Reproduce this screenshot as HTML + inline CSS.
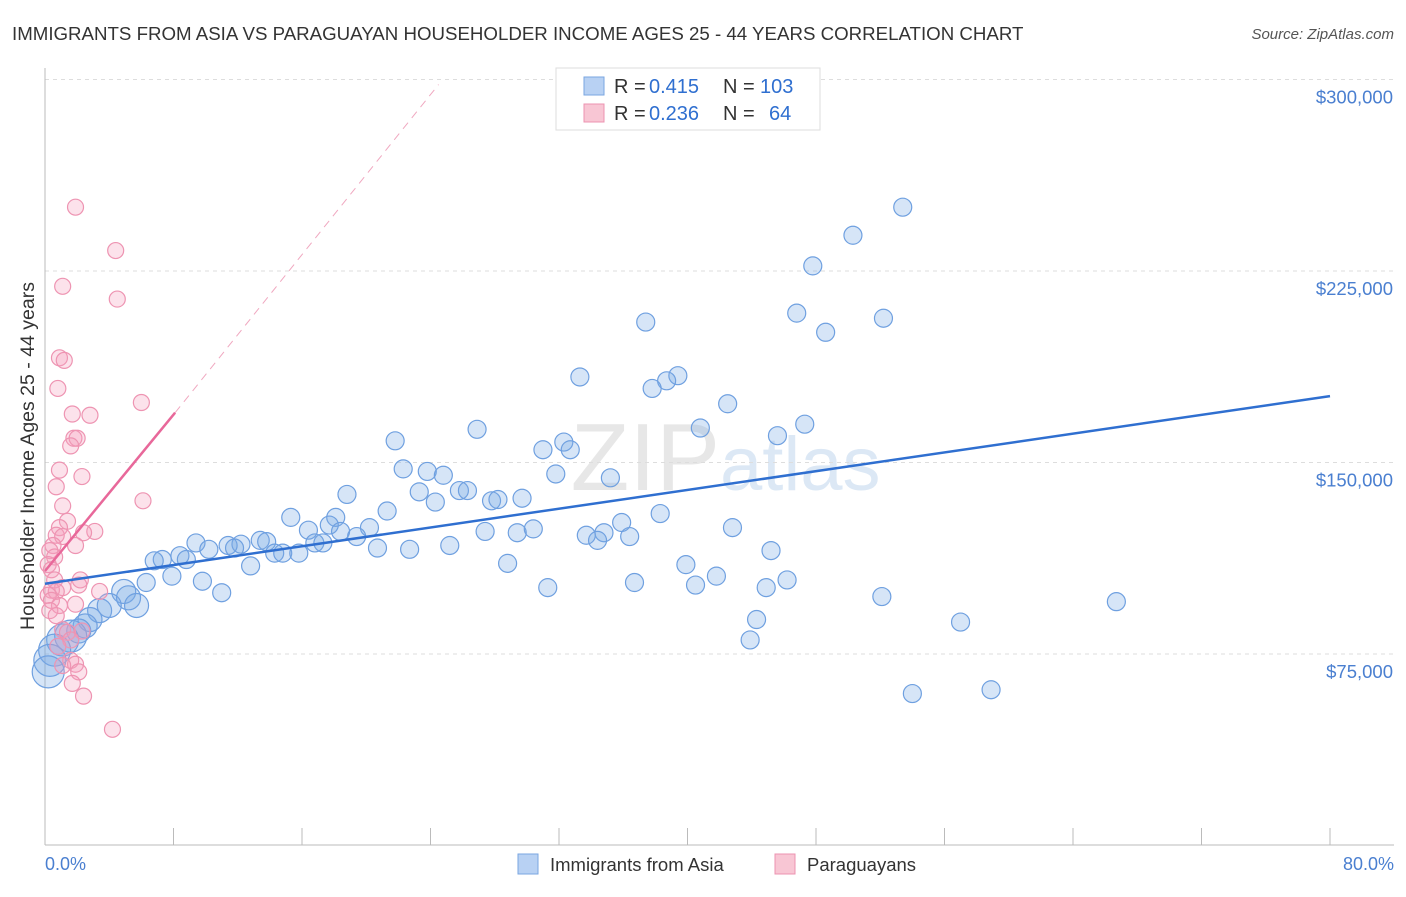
<!DOCTYPE html>
<html><head><meta charset="utf-8"><style>
body{margin:0;background:#fff;font-family:"Liberation Sans",sans-serif}
svg text{font-family:"Liberation Sans",sans-serif}
</style></head><body>
<svg id="chart" width="1406" height="892" xmlns="http://www.w3.org/2000/svg">
<text x="12" y="40" font-size="18.7" fill="#333">IMMIGRANTS FROM ASIA VS PARAGUAYAN HOUSEHOLDER INCOME AGES 25 - 44 YEARS CORRELATION CHART</text>
<text x="1394" y="39" font-size="15" fill="#555" text-anchor="end" font-style="italic">Source: ZipAtlas.com</text>
<text x="720" y="490" font-size="96" fill="#d8d8d8" text-anchor="end" font-family="Liberation Serif" opacity="0.6">ZIP</text>
<text x="720" y="490" font-size="76" fill="#c5d9ef" opacity="0.6">atlas</text>
<g id="grid"></g><g id="axes"></g><g id="pts"></g><g id="reg"></g>
<text transform="translate(34,456) rotate(-90)" font-size="19.5" fill="#333" text-anchor="middle">Householder Income Ages 25 - 44 years</text>
<text x="45" y="870" font-size="18" fill="#4a7fd0">0.0%</text>
<text x="1394" y="870" font-size="18" fill="#4a7fd0" text-anchor="end">80.0%</text>
<g>
<rect x="556" y="68" width="264" height="62" fill="#fff" stroke="#ddd"/>
<rect x="584" y="77" width="20" height="18" fill="#b8d1f3" stroke="#7aa6e0"/>
<rect x="584" y="104" width="20" height="18" fill="#f8c6d4" stroke="#ec93b0"/>
<text x="614" y="93" font-size="20" fill="#333">R =</text>
<text x="649" y="93" font-size="20" fill="#2f6fd0">0.415</text>
<text x="723" y="93" font-size="20" fill="#333">N =</text>
<text x="760" y="93" font-size="20" fill="#2f6fd0">103</text>
<text x="614" y="120" font-size="20" fill="#333">R =</text>
<text x="649" y="120" font-size="20" fill="#2f6fd0">0.236</text>
<text x="723" y="120" font-size="20" fill="#333">N =</text>
<text x="769" y="120" font-size="20" fill="#2f6fd0">64</text>
</g>
<g>
<rect x="518" y="854" width="20" height="20" fill="#b8d1f3" stroke="#7aa6e0"/>
<text x="550" y="871" font-size="18.5" fill="#333">Immigrants from Asia</text>
<rect x="775" y="854" width="20" height="20" fill="#f8c6d4" stroke="#ec93b0"/>
<text x="807" y="871" font-size="18.5" fill="#333">Paraguayans</text>
</g>
</svg>
<script>
const yTicks=[75,150,225,300];
const yTickLabels=["$75,000","$150,000","$225,000","$300,000"];
const xTicks=[0,8,16,24,32,40,48,56,64,72,80];
const blueX=[53.4,50.3,47.8,46.8,48.6,52.2,37.4,33.3,39.4,38.7,37.8,42.5,47.3,40.8,45.6,26.9,21.8,32.3,31,32.7,22.3,23.8,24.8,35.2,31.8,18.8,23.3,25.8,26.3,24.3,27.8,28.2,29.7,15.3,21.3,18.1,17.7,16.4,18.4,20.2,35.9,38.3,42.8,27.4,29.4,30.4,19.4,33.7,34.8,34.4,36.4,16.8,17.3,20.7,22.7,25.2,13.4,13.8,12.2,11.4,9.4,10.2,11.8,14.3,14.8,15.8,8.4,7.3,6.8,8.8,12.8,28.8,39.9,45.2,7.9,9.8,6.3,41.8,40.5,36.7,31.3,44.9,46.2,11.0,4.9,5.2,52.1,66.7,44.3,57,43.9,5.7,3.4,4.0,2.8,2.5,2.1,1.6,1.1,0.6,0.3,0.2,54,58.9];
const blueY=[250,239,227,208.5,201,206.5,205,183.5,184,182,179,173,165,163.5,160.5,163,158.5,158,155,155,147.5,146.5,145,144,145.5,137.5,138.5,139,139,134.5,135,135.5,136,128.5,131,128.5,125.5,123.5,123,124.5,126.5,130,124.5,123,122.5,124,121,121.5,122.5,119.5,121,118.5,118.5,116.5,116,117.5,119.5,119,118,117.5,118.5,116,116.5,114.5,114.5,114.5,113.5,112,111.5,112,109.5,110.5,110,115.5,105.5,103.5,103,105.5,102,103,101,101,104,99,99.5,97,97.5,95.5,88.5,87.5,80.5,94,92,94,88.5,86,84,82,80.5,76.5,72.5,68,59.5,61];
const pinkX=[1.9,4.4,1.1,4.5,0.9,1.2,0.8,6,1.7,2.8,1.8,2,1.6,0.9,2.3,0.7,6.1,1.1,1.4,0.9,3.1,2.4,0.7,1.1,0.5,1.9,0.3,0.6,0.2,0.4,0.6,2.2,2.1,1.1,0.4,0.7,0.2,3.4,0.4,1.9,0.9,0.3,0.7,1.1,1.4,2.3,1.6,0.8,1.6,1.9,1.1,2.1,1.7,2.4,4.2];
const pinkY=[250,233,219,214,191,190,179,173.5,169,168.5,159.5,159.5,156.5,147,144.5,140.5,135,133,127,124.5,123,122.5,121.5,121,117.5,117.5,115.5,113,110,108,104,104,102,101,100,99.5,98,99.5,96,94.5,94,92,90,84.5,83.5,84,80.5,78,72.5,71,70.5,68,63.5,58.5,45.5];
const blueLine=[[0,102.5],[80,176]];
const pinkLine=[[0,107.5],[8.1,169.5]];
const pinkDash=[[8.1,169.5],[24.5,298]];
const NS="http://www.w3.org/2000/svg";
const X=v=>45+v/80*1285, Y=v=>845.5-v/75*191.5;
function mk(t,a,p){const e=document.createElementNS(NS,t);for(const k in a)e.setAttribute(k,a[k]);p.appendChild(e);return e;}
const g=document.getElementById('grid'),ax=document.getElementById('axes'),pts=document.getElementById('pts'),rg=document.getElementById('reg');
yTicks.forEach((t,i)=>{
 const l=mk('line',{x1:45,x2:1394,y1:Y(t),y2:Y(t),stroke:'#ddd','stroke-dasharray':'4,4'},g);
 
 
 const tx=mk('text',{x:1393,y:Y(t)+24,'font-size':18.5,fill:'#4a7fd0','text-anchor':'end'},g);
 tx.textContent=yTickLabels[i];
 
 
});
mk('line',{x1:45,x2:45,y1:68,y2:845,stroke:'#bbb'},ax);
mk('line',{x1:45,x2:1394,y1:845,y2:845,stroke:'#bbb'},ax);
xTicks.forEach(t=>{const e=mk('line',{x1:X(t),x2:X(t),y1:828,y2:845,stroke:'#bbb'},ax);
 
 });
blueX.forEach((v,i)=>{const r=v<2?16:v<6?12:9;
 const c=mk('circle',{cx:X(v),cy:Y(blueY[i]),r:r,fill:'rgba(120,170,230,0.3)',stroke:'#6fa0e0','stroke-width':1.2},pts);
 
 });
pinkX.forEach((v,i)=>{
 const c=mk('circle',{cx:X(v),cy:Y(pinkY[i]),r:8,fill:'rgba(245,160,190,0.3)',stroke:'#ee94b2','stroke-width':1.2},pts);
 
 });
const bl=mk('line',{x1:X(blueLine[0][0]),y1:Y(blueLine[0][1]),x2:X(blueLine[1][0]),y2:Y(blueLine[1][1]),stroke:'#2f6fd0','stroke-width':2.5},rg);


const pl=mk('line',{x1:X(pinkLine[0][0]),y1:Y(pinkLine[0][1]),x2:X(pinkLine[1][0]),y2:Y(pinkLine[1][1]),stroke:'#e8689a','stroke-width':2.5},rg);


const pd=mk('line',{x1:X(pinkDash[0][0]),y1:Y(pinkDash[0][1]),x2:X(pinkDash[1][0]),y2:Y(pinkDash[1][1]),stroke:'#f0a8c0','stroke-width':1,'stroke-dasharray':'8,6'},rg);


</script>
</body></html>
